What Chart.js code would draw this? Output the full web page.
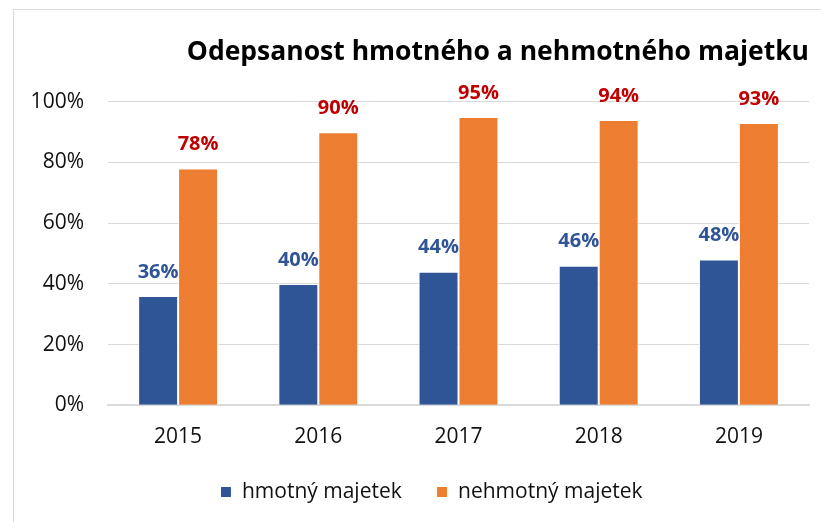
<!DOCTYPE html>
<html>
<head>
<meta charset="utf-8">
<script src="https://cdn.jsdelivr.net/npm/chart.js@4.4.0/dist/chart.umd.min.js"></script>
<style>
  html, body { margin: 0; padding: 0; background: #fff; }
  #frame { position: absolute; left: 13px; top: 9px; width: 900px; height: 600px; border: 1px solid #d9d9d9; }
  #wrap { position: absolute; left: 0; top: 0; width: 821px; height: 522px; }
</style>
</head>
<body>
<div id="frame"></div>
<div id="wrap"><canvas id="chart"></canvas></div>
<script>
const years = ["2015", "2016", "2017", "2018", "2019"];
const hmotny = [36, 40, 44, 46, 48];
const nehmotny = [78, 90, 95, 94, 93];
const yTicks = [0, 20, 40, 60, 80, 100];

const FONT = "'Open Sans', sans-serif";

// popisky hodnot nad sloupci
const valueLabels = {
  id: "valueLabels",
  afterDatasetsDraw(chart) {
    const ctx = chart.ctx;
    ctx.save();
    ctx.font = "bold 20px " + FONT;
    ctx.textAlign = "center";
    ctx.textBaseline = "middle";
    chart.data.datasets.forEach((ds, i) => {
      const meta = chart.getDatasetMeta(i);
      ctx.fillStyle = ds.labelColor;
      meta.data.forEach((bar, j) => {
        ctx.fillText(ds.data[j] + "%", bar.x, bar.y - 24);
      });
    });
    ctx.restore();
  }
};

// legenda je v originale posunuta doprava
const legendShift = {
  id: "legendShift",
  afterLayout(chart) {
    chart.legend.left += 27;
    chart.legend.right += 27;
  }
};

new Chart(document.getElementById("chart"), {
  type: "bar",
  data: {
    labels: years,
    datasets: [
      { label: "hmotný majetek", data: hmotny, backgroundColor: "#2f5597", borderColor: "#ffffff", borderWidth: 1, labelColor: "#2f5597" },
      { label: "nehmotný majetek", data: nehmotny, backgroundColor: "#ed7d31", borderColor: "#ffffff", borderWidth: 1, labelColor: "#c00000" }
    ]
  },
  options: {
    responsive: true,
    maintainAspectRatio: false,
    animation: false,
    layout: { padding: { left: 0, right: 12, top: 0, bottom: 9.5 } },
    datasets: { bar: { barPercentage: 1, categoryPercentage: 0.57 } },
    plugins: {
      title: {
        display: true,
        text: "Odepsanost hmotného a nehmotného majetku",
        align: "end",
        color: "#000",
        font: { family: FONT, size: 26.5, weight: "bold" },
        padding: { top: 37, bottom: 33 }
      },
      legend: {
        position: "bottom",
        labels: {
          color: "#111",
          font: { family: FONT, size: 21 },
          boxWidth: 11,
          boxHeight: 11,
          padding: 13,
          // mezera mezi polozkami je vetsi nez svisly odstup
          generateLabels: (chart) => {
            const items = Chart.defaults.plugins.legend.labels.generateLabels(chart);
            items[0].text += "    ";
            return items;
          }
        }
      },
      tooltip: { enabled: false }
    },
    scales: {
      x: {
        grid: { display: false, drawTicks: false },
        border: { color: "#d9d9d9", width: 2 },
        ticks: { color: "#111", font: { family: FONT, size: 21 }, padding: 19 }
      },
      y: {
        min: 0,
        max: 100,
        afterBuildTicks: (axis) => { axis.ticks = yTicks.map(v => ({ value: v })); },
        afterFit: (axis) => { axis.width = 108; },
        grid: { color: "#d9d9d9", drawTicks: false },
        border: { display: false },
        ticks: { color: "#111", font: { family: FONT, size: 21 }, padding: 24, callback: v => v + "%" }
      }
    }
  },
  plugins: [valueLabels, legendShift]
});
</script>
</body>
</html>
